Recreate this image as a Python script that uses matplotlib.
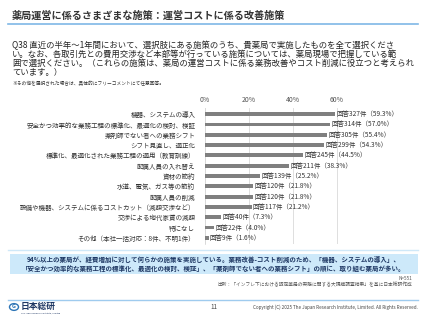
import matplotlib
matplotlib.use("Agg")
import matplotlib.pyplot as plt
from matplotlib.patches import Rectangle, Circle
from matplotlib.lines import Line2D

plt.rcParams['font.family'] = ['Noto Sans CJK JP', 'DejaVu Sans']

categories = [
    "機器、システムの導入",
    "安全かつ効率的な業務工程の標準化、最適化の検討、検証",
    "薬剤師でない者への業務シフト",
    "シフト見直し、適正化",
    "標準化、最適化された業務工程の適用（教育訓練）",
    "配属人員の入れ替え",
    "資材の節約",
    "水道、電気、ガス等の節約",
    "配属人員の削減",
    "設備や機器、システムに係るコストカット（減額交渉など）",
    "交渉による地代家賃の減額",
    "特になし",
    "その他（本社一括対応：8件、不明1件）",
]
counts = [327, 314, 305, 299, 245, 211, 139, 120, 120, 117, 40, 22, 9]
shares = [59.3, 57.0, 55.4, 54.3, 44.5, 38.3, 25.2, 21.8, 21.8, 21.2, 7.3, 4.0, 1.6]
ticks = [0, 20, 40, 60]

W, H = 427, 320
fig = plt.figure(figsize=(W / 100, H / 100), dpi=100)
fig.patch.set_facecolor('white')

def fy(py):
    return 1 - py / H

def fx(px):
    return px / W

# タイトル
fig.text(fx(12), fy(16), "薬局運営に係るさまざまな施策：運営コストに係る改善施策",
         fontsize=7.3, fontweight='bold', color='#333333', va='center', ha='left')
fig.add_artist(Line2D([fx(8), fx(418)], [fy(24), fy(24)], color='#7fb8e6', lw=1.2))

# 設問文
q_lines = [
    "Q38 直近の半年〜1年間において、選択肢にある施策のうち、貴薬局で実施したものを全て選択くださ",
    "い。なお、各取引先との費用交渉など本部等が行っている施策については、薬局現場で把握している範",
    "囲で選択ください。（これらの施策は、薬局の運営コストに係る業務改善やコスト削減に役立つと考えられ",
    "ています。）",
]
for i, s in enumerate(q_lines):
    fig.text(fx(12), fy(45 + i * 9.2), s, fontsize=6.0, color='#222222', va='center', ha='left')
fig.text(fx(12), fy(84), "※その他を選択された場合は、具体的にフリーコメントにて任意回答。",
         fontsize=3.4, color='#333333', va='center', ha='left')

# グラフ
ax = fig.add_axes([fx(205), fy(244), fx(370) - fx(205), (244 - 108) / H])
y = list(range(len(categories)))
ax.barh(y, shares, height=0.38, color='#7f7f7f', zorder=3)
ax.set_ylim(len(categories) - 0.4, -0.6)
ax.set_xlim(0, 75)
ax.set_xticks(ticks)
ax.set_xticklabels([f"{t}%" for t in ticks], fontsize=5.0, color='#555555')
ax.xaxis.tick_top()
ax.tick_params(axis='x', length=0, pad=3)
ax.set_yticks(y)
ax.set_yticklabels(categories, fontsize=4.7, color='#333333')
ax.tick_params(axis='y', length=0, pad=7)
ax.grid(axis='x', color='#d9d9d9', lw=0.6, zorder=0)
for sp in ['top', 'right', 'bottom']:
    ax.spines[sp].set_visible(False)
ax.spines['left'].set_color('#d9d9d9')
ax.spines['left'].set_linewidth(0.6)
for yi, c, s in zip(y, counts, shares):
    ax.text(s + 0.6, yi, f"回答{c}件（{s:.1f}%）", fontsize=4.7, color='#333333',
            va='center', ha='left')

# 区切り線
fig.add_artist(Line2D([fx(8), fx(418)], [fy(249.5), fy(249.5)], color='#cfe8f8', lw=1.0))

# まとめボックス
fig.add_artist(Rectangle((fx(10), fy(274)), fx(408), (274 - 254) / H,
                         facecolor='#cde9fa', edgecolor='none'))
fig.text(fx(214), fy(259.5),
         "94%以上の薬局が、経費増加に対して何らかの施策を実施している。業務改善-コスト削減のため、「機器、システムの導入」、",
         fontsize=4.65, fontweight='bold', color='#1f3864', va='center', ha='center')
fig.text(fx(214), fy(268.5),
         "「安全かつ効率的な業務工程の標準化、最適化の検討、検証」、「薬剤師でない者への業務シフト」の順に、取り組む薬局が多い。",
         fontsize=4.65, fontweight='bold', color='#1f3864', va='center', ha='center')

fig.text(fx(412), fy(278), "N=551", fontsize=3.4, color='#555555', va='center', ha='right')
fig.text(fx(412), fy(284), "出所：「インフレ下における認定薬局の実態に関する大規模調査結果」を基に日本総研作成",
         fontsize=3.4, color='#555555', va='center', ha='right')

# フッター
fig.add_artist(Line2D([fx(8), fx(418)], [fy(299.5), fy(299.5)], color='#9fcbee', lw=1.0))
fig.add_artist(Circle((fx(14), fy(307)), 4.5 / W, transform=fig.transFigure,
                      facecolor='white', edgecolor='#2e75b6', lw=1.0))
fig.text(fx(14), fy(307), "G", fontsize=4, fontweight='bold', color='#2e75b6',
         va='center', ha='center')
fig.text(fx(21), fy(306), "日本総研", fontsize=6.3, fontweight='bold', color='#1f3864',
         va='center', ha='left')
fig.text(fx(21), fy(313), "The Japan Research Institute, Limited", fontsize=1.6,
         color='#1f3864', va='center', ha='left')
fig.text(fx(214), fy(307), "11", fontsize=4.5, color='#444444', va='center', ha='center')
fig.text(fx(418), fy(307), "Copyright (C) 2025 The Japan Research Institute, Limited. All Rights Reserved.",
         fontsize=3.3, color='#444444', va='center', ha='right')

fig.savefig("out.png", dpi=100)
